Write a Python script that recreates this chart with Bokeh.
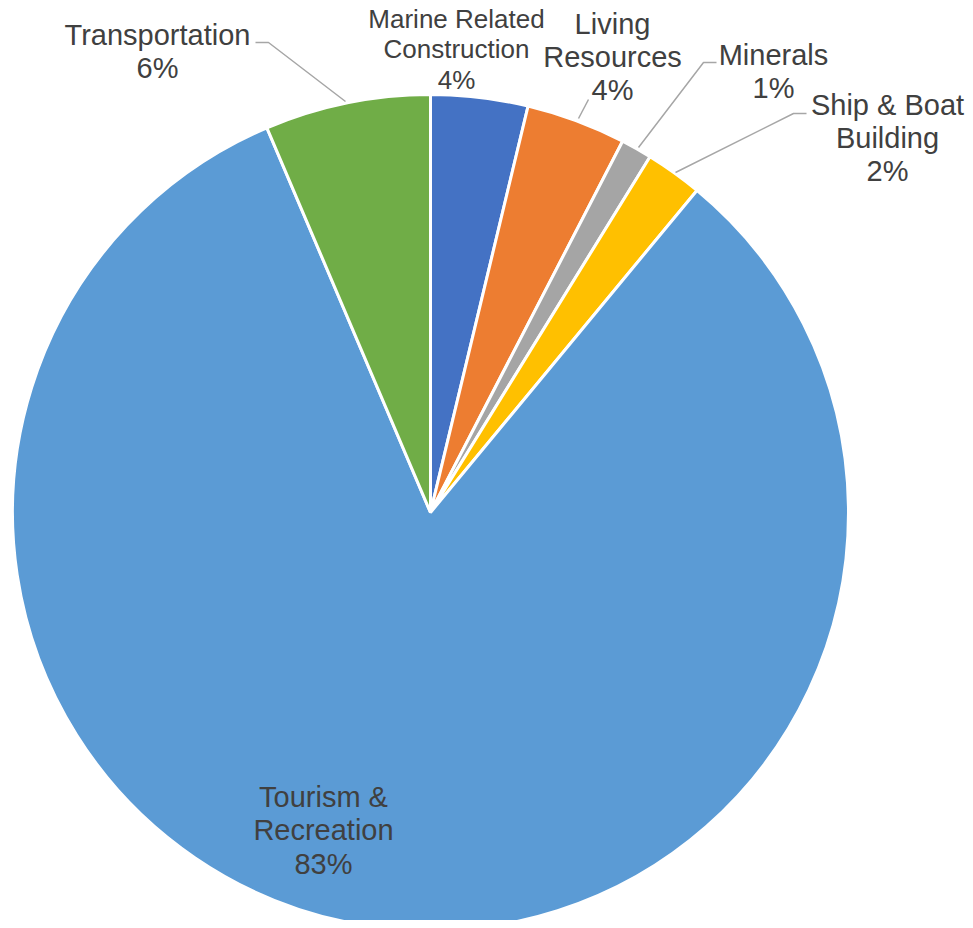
import math
from bokeh.plotting import figure
from bokeh.models import Range1d
from bokeh.core.properties import value
from bokeh.embed import file_html
from bokeh.resources import INLINE

# ---- data ----
categories = ["Marine Related Construction", "Living Resources", "Minerals",
              "Ship & Boat Building", "Tourism & Recreation", "Transportation"]
shares = [3.75, 3.85, 1.2, 2.2, 82.6, 6.4]
pct_labels = ["4%", "4%", "1%", "2%", "83%", "6%"]
colors = ["#4472C4", "#ED7D31", "#A5A5A5", "#FFC000", "#5B9BD5", "#70AD47"]

W, H = 965, 920


def X(px):
    return px


def Y(py):
    return H - py


p = figure(width=W, height=H, output_backend="svg", toolbar_location=None,
           x_range=Range1d(0, W), y_range=Range1d(0, H), min_border=0)
p.axis.visible = False
p.grid.visible = False
p.outline_line_color = None
p.background_fill_color = "white"
p.border_fill_color = "white"

cx, cy, r = X(430), Y(512), 418
total = sum(shares)
cum = 0.0
starts, ends = [], []
for s in shares:
    starts.append(math.pi / 2 - 2 * math.pi * cum / total)
    cum += s
    ends.append(math.pi / 2 - 2 * math.pi * cum / total)

p.wedge(x=[cx] * len(shares), y=[cy] * len(shares), radius=r,
        start_angle=starts, end_angle=ends, direction="clock",
        fill_color=colors, line_color="white", line_width=3)

# leader lines
lc = "#A6A6A6"
leaders = [
    [(255, 42), (268, 42), (345, 101)],
    [(578, 118), (588, 99)],
    [(638, 147), (703, 62), (716, 62)],
    [(675, 172), (793, 113), (806, 113)],
]
for pts in leaders:
    p.line([X(a) for a, b in pts], [Y(b) for a, b in pts], line_color=lc, line_width=1.5)

# labels: (x center, [(line text, baseline)], pct baseline, font size)
label_layout = [
    (456, [("Marine Related", 18), ("Construction", 48)], 79, 26),
    (612, [("Living", 23), ("Resources", 56)], 89, 29),
    (773, [("Minerals", 54)], 87, 29),
    (887, [("Ship & Boat", 104), ("Building", 137)], 170, 29),
    (323, [("Tourism &", 796), ("Recreation", 829)], 863, 29),
    (157, [("Transportation", 34)], 67, 29),
]
for i, (lx, lines, pct_y, fs) in enumerate(label_layout):
    txts = [t for t, _ in lines] + [pct_labels[i]]
    ys = [b for _, b in lines] + [pct_y]
    p.text(x=[X(lx)] * len(txts), y=[Y(b) for b in ys], text=txts,
           text_font=value("Liberation Sans"), text_font_size=f"{fs}px",
           text_color="#404040", text_align="center", text_baseline="alphabetic")

open("out.html", "w").write(file_html(p, INLINE))
